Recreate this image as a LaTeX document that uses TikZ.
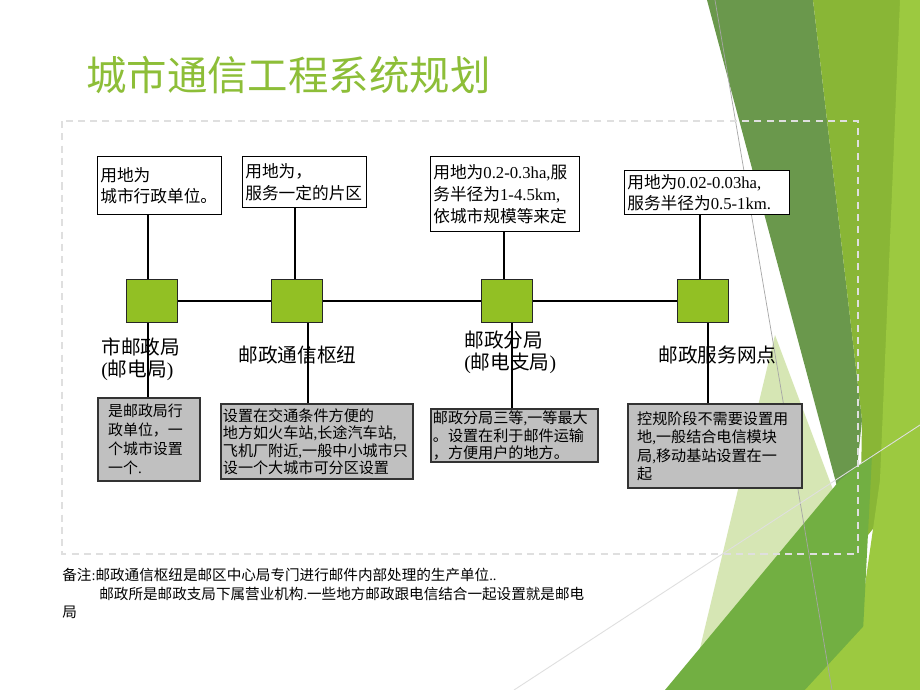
\documentclass[tikz,border=0pt]{standalone}
\usepackage{fontspec}
\setmainfont{Noto Sans CJK SC}
\newfontfamily\latinfont{Liberation Serif}
\usepackage{tikz}
\usetikzlibrary{positioning,calc}
\definecolor{hubGreen}{RGB}{146,192,36}
\definecolor{titleGreen}{RGB}{141,190,56}
\definecolor{boxGray}{RGB}{192,192,192}
\definecolor{bgDark}{RGB}{106,152,76}
\definecolor{bgMid}{RGB}{137,182,54}
\definecolor{bgLime}{RGB}{156,201,64}
\definecolor{bgPale}{RGB}{214,230,180}
\definecolor{bgGrass}{RGB}{114,175,66}
\tikzstyle{tB}=[draw=black,fill=white,line width=0.8pt,anchor=north west,inner xsep=1.5pt,inner ysep=1pt,align=left,font=\fontsize{9.5}{12.3}\selectfont]
\tikzstyle{hS}=[draw=black!85,fill=hubGreen,line width=0.9pt,minimum width=1.02cm,minimum height=0.86cm,inner sep=0pt]
\tikzstyle{gB}=[draw=black!80,fill=boxGray,line width=1.3pt,anchor=north west,inner ysep=0pt,align=left,font=\fontsize{8.5}{10.6}\selectfont]
\tikzstyle{lN}=[anchor=west,inner sep=0pt,align=left,font=\fontsize{11.2}{12.5}\selectfont]
\tikzstyle{eL}=[draw=black,line width=0.8pt]
\newcommand{\lt}[1]{{\latinfont #1}}

\begin{document}
\begin{tikzpicture}[x=0.02cm,y=-0.02cm]
                \useasboundingbox (0,0) rectangle (920,690);
                \fill[white] (0,0) rectangle (920,690);
                % background facets
                \fill[bgPale] (775,335) -- (850,535) -- (805,690) -- (690,690) -- cycle;
                \fill[bgDark] (707,0) -- (813,0) -- (862,420) -- (850,535) -- cycle;
                \fill[bgMid] (813,0) -- (920,0) -- (920,470) -- (860,545) -- (862,420) -- cycle;
                \fill[bgLime] (900,0) -- (920,0) -- (920,690) -- (850,690) -- (880,480) -- cycle;
                \fill[bgGrass] (665,690) -- (840,480) -- (872,455) -- (860,690) -- cycle;
                \fill[bgLime] (805,690) -- (920,565) -- (920,690) -- cycle;
                \draw[gray!70,line width=0.4pt] (715,0) -- (832,690);
                \draw[gray!25,line width=0.5pt] (514,690) -- (920,425);
                % title and frame
                \draw (86,75) node[anchor=west,inner sep=0pt,text=titleGreen,font=\fontsize{23}{26}\selectfont] (title) {城市通信工程系统规划};
                \draw[gray!25,line width=0.8pt,dash pattern=on 4pt off 3pt] (62,121) rectangle (858,554);
                % upper boxes
                \draw (97,156) node[tB,text width=2.37cm,minimum height=1.16cm] (t1) {用地为\\城市行政单位。};
                \draw (242,156) node[tB,text width=2.37cm,minimum height=1.02cm] (t2) {用地为，\\服务一定的片区};
                \draw (430,156) node[tB,text width=2.87cm,minimum height=1.5cm] (t3) {用地为\lt{0.2-0.3ha,}服\\务半径为\lt{1-4.5km,}\\依城市规模等来定};
                \draw (624,170) node[tB,text width=3.19cm,minimum height=0.88cm] (t4) {用地为\lt{0.02-0.03ha,}\\服务半径为\lt{0.5-1km.}};
                % hubs
                \draw (152,301) node[hS] (h1) {};
                \draw (297,301) node[hS] (h2) {};
                \draw (507,301) node[hS] (h3) {};
                \draw (703,301) node[hS] (h4) {};
                % lower boxes
                \draw (97,397) node[gB,inner xsep=0.2cm,text width=1.64cm,minimum height=1.66cm,font=\fontsize{8.5}{10.8}\selectfont] (b1) {是邮政局行\\政单位，一\\个城市设置\\一个\lt{.}};
                \draw (220,403) node[gB,inner xsep=1pt,text width=3.77cm,minimum height=1.5cm,font=\fontsize{8.6}{9.8}\selectfont] (b2) {设置在交通条件方便的\\地方如火车站\lt{,}长途汽车站\lt{,}\\飞机厂附近\lt{,}一般中小城市只\\设一个大城市可分区设置};
                \draw (430,408) node[gB,inner xsep=1pt,text width=3.27cm,minimum height=1.06cm,font=\fontsize{8.6}{10}\selectfont] (b3) {邮政分局三等\lt{,}一等最大\\。设置在利于邮件运输\\，方便用户的地方。};
                \draw (627,403) node[gB,inner xsep=0.18cm,text width=3.12cm,minimum height=1.68cm,font=\fontsize{8.6}{10.5}\selectfont] (b4) {控规阶段不需要设置用\\地\lt{,}一般结合电信模块\\局\lt{,}移动基站设置在一\\起};
                \path
                    (h1) edge[eL] (h2)
                    (h2) edge[eL] (h3)
                    (h3) edge[eL] (h4)
                    ([xshift=-0.08cm]h1.north) edge[eL] ([xshift=-0.08cm]h1.north |- t1.south)
                    ([xshift=-0.04cm]h2.north) edge[eL] ([xshift=-0.04cm]h2.north |- t2.south)
                    ([xshift=-0.06cm]h3.north) edge[eL] ([xshift=-0.06cm]h3.north |- t3.south)
                    ([xshift=-0.06cm]h4.north) edge[eL] ([xshift=-0.06cm]h4.north |- t4.south)
                    ([xshift=-0.08cm]h1.south) edge[eL] ([xshift=-0.08cm]h1.south |- b1.north)
                    ([xshift=0.22cm]h2.south) edge[eL] ([xshift=0.22cm]h2.south |- b2.north)
                    ([xshift=0.1cm]h3.south) edge[eL] ([xshift=0.1cm]h3.south |- b3.north)
                    ([xshift=0.1cm]h4.south) edge[eL] ([xshift=0.1cm]h4.south |- b4.north)
                ;
                % hub labels
                \draw (101,359) node[lN] (l1) {市邮政局\\\lt{(}邮电局\lt{)}};
                \draw (238,355) node[lN] (l2) {邮政通信枢纽};
                \draw (464,352) node[lN] (l3) {邮政分局\\\lt{(}邮电支局\lt{)}};
                \draw (658,355) node[lN] (l4) {邮政服务网点};
                % remark
                \draw (62,568) node[anchor=north west,inner sep=0pt,align=left,font=\fontsize{8.3}{10.5}\selectfont] (n1) {备注\lt{:}邮政通信枢纽是邮区中心局专门进行邮件内部处理的生产单位\lt{..}\\\hspace*{0.74cm}邮政所是邮政支局下属营业机构\lt{.}一些地方邮政跟电信结合一起设置就是邮电\\局};
        \end{tikzpicture}
\end{document}
